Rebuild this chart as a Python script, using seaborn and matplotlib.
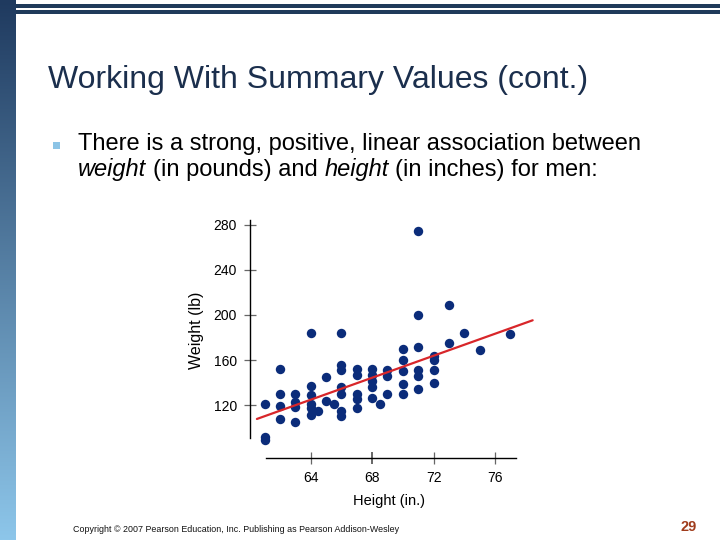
import matplotlib
matplotlib.use('Agg')
import matplotlib.pyplot as plt
import numpy as np
import seaborn as sns
from matplotlib.patches import Rectangle

# ---------------- data ----------------
heights = [61, 61, 61,
           62, 62, 62, 62,
           63, 63, 63, 63,
           64, 64, 64, 64, 64, 64,
           64.5,
           65, 65,
           65.5,
           66, 66, 66, 66, 66, 66, 66,
           67, 67, 67, 67, 67,
           68, 68, 68, 68, 68,
           68.5,
           69, 69, 69,
           70, 70, 70, 70, 70,
           71, 71, 71, 71, 71, 71,
           72, 72, 72, 72,
           73, 73,
           74,
           75,
           77]
weights = [121, 92, 89,
           152, 130, 119, 108,
           130, 123, 118, 105,
           184, 137, 129, 121, 117, 111,
           115,
           145, 124,
           121,
           184, 156, 151, 136, 130, 115, 110,
           152, 147, 130, 125, 117,
           152, 147, 141, 136, 126,
           121,
           151, 146, 130,
           170, 160, 150, 139, 130,
           275, 200, 172, 151, 146, 134,
           164, 160, 151, 140,
           209, 175,
           184,
           169,
           183]
line_x = [60.5, 78.45]
line_y = [107.6, 195.3]
x_ticks = [64, 68, 72, 76]
y_ticks = [120, 160, 200, 240, 280]

title = "Working With Summary Values (cont.)"
bullet_line1 = "There is a strong, positive, linear association between"
bullet_line2 = [("weight", "italic"), ("(in pounds) and", "normal"),
                ("height", "italic"), ("(in inches) for men:", "normal")]
copyright_txt = "Copyright © 2007 Pearson Education, Inc. Publishing as Pearson Addison-Wesley"
page_no = "29"

# ---------------- style ----------------
sns.set_style("white")
plt.rcParams['font.family'] = ['Liberation Sans', 'DejaVu Sans']
SLIDE_FONT = ['Liberation Sans', 'DejaVu Sans']

W, H = 720, 540
fig = plt.figure(figsize=(7.2, 5.4), dpi=100)
fig.patch.set_facecolor('white')

# left gradient bar
bar_ax = fig.add_axes([0, 0, 16 / W, 1])
top_c = np.array([31, 58, 95]) / 255
bot_c = np.array([141, 198, 234]) / 255
t = np.linspace(0, 1, 256)[:, None]
grad = (top_c[None, :] * (1 - t) + bot_c[None, :] * t)[:, None, :]
bar_ax.imshow(grad, aspect='auto', extent=[0, 1, 0, 1])
bar_ax.set_axis_off()

# top double lines
line_col = '#1f3a5a'
fig.add_artist(Rectangle((16 / W, 1 - 7.7 / H), 1, 3.7 / H, transform=fig.transFigure,
                         facecolor=line_col, edgecolor='none'))
fig.add_artist(Rectangle((16 / W, 1 - 13.7 / H), 1, 4.0 / H, transform=fig.transFigure,
                         facecolor=line_col, edgecolor='none'))

# title
fig.text(48 / W, 1 - 88 / H, title, family=SLIDE_FONT, fontsize=23.0,
         color='#1b2f4d', ha='left', va='baseline')

# bullet square
fig.add_artist(Rectangle((53 / W, 1 - 149 / H), 7 / W, 7 / H, transform=fig.transFigure,
                         facecolor='#8cc4e6', edgecolor='none'))

body_fs = 17
fig.text(78 / W, 1 - 150 / H, bullet_line1, family=SLIDE_FONT, fontsize=body_fs,
         color='black', ha='left', va='baseline')

renderer = fig.canvas.get_renderer()
probe1 = fig.text(0, 0, "x x", family=SLIDE_FONT, fontsize=body_fs)
probe2 = fig.text(0, 0, "xx", family=SLIDE_FONT, fontsize=body_fs)
space_w = probe1.get_window_extent(renderer).width - probe2.get_window_extent(renderer).width
probe1.remove()
probe2.remove()

x_px = 78
for txt, style in bullet_line2:
    tt = fig.text(x_px / W, 1 - 176 / H, txt, family=SLIDE_FONT, fontsize=body_fs,
                  style=style, color='black', ha='left', va='baseline')
    bb = tt.get_window_extent(renderer)
    x_px = bb.x1 + space_w

# copyright + page number
fig.text(73 / W, 1 - 530 / H, copyright_txt, family=SLIDE_FONT, fontsize=6.4,
         color='#111111', ha='left', va='center')
fig.text(689 / W, 1 - 527 / H, page_no, family=SLIDE_FONT, fontsize=10.5,
         fontweight='bold', color='#a03c1c', ha='center', va='center')

# ---------------- scatter plot ----------------
ax = fig.add_axes([250 / W, (H - 458) / H, 291.1 / W, 239.76 / H])
ax.set_facecolor('none')
sns.scatterplot(x=heights, y=weights, ax=ax, color='#0b2c7a', s=46,
                linewidth=0, zorder=3)
sns.lineplot(x=line_x, y=line_y, ax=ax, color='#d8262a', linewidth=1.6, zorder=4)

ax.set_xlim(60.05, 79)
ax.set_ylim(72.9, 286)
ax.set_xticks(x_ticks)
ax.set_yticks(y_ticks)
ax.set_xticklabels([str(v) for v in x_ticks])
ax.set_yticklabels([str(v) for v in y_ticks])

for side in ['top', 'right']:
    ax.spines[side].set_visible(False)
for side in ['left', 'bottom']:
    ax.spines[side].set_color('black')
    ax.spines[side].set_linewidth(1.0)
ax.spines['left'].set_bounds(90.7, 284)
ax.spines['bottom'].set_bounds(61.09, 77.37)

ax.tick_params(bottom=True, left=True, top=False, right=False,
               direction='inout', length=8.6, width=0.9, color='#666666',
               pad=5, labelsize=10, labelcolor='black')
for tk, v in zip(ax.xaxis.get_major_ticks(), x_ticks):
    if v == 68:
        tk.tick1line.set_color('black')
        tk.tick1line.set_markeredgewidth(1.4)
for tk, v in zip(ax.yaxis.get_major_ticks(), y_ticks):
    if v in (240, 280):
        tk.tick1line.set_color('black')

ax.set_xlabel("Height (in.)", fontsize=10.5, color='black')
ax.set_ylabel("Weight (lb)", fontsize=11.5, color='black')
ax.xaxis.set_label_coords((389 - 250) / 291.1, (458 - 501) / 239.76)
ax.yaxis.set_label_coords((196 - 250) / 291.1, (458 - 330) / 239.76)
ax.xaxis.label.set_va('center')
ax.yaxis.label.set_va('center')

fig.savefig('out.png', dpi=100)
